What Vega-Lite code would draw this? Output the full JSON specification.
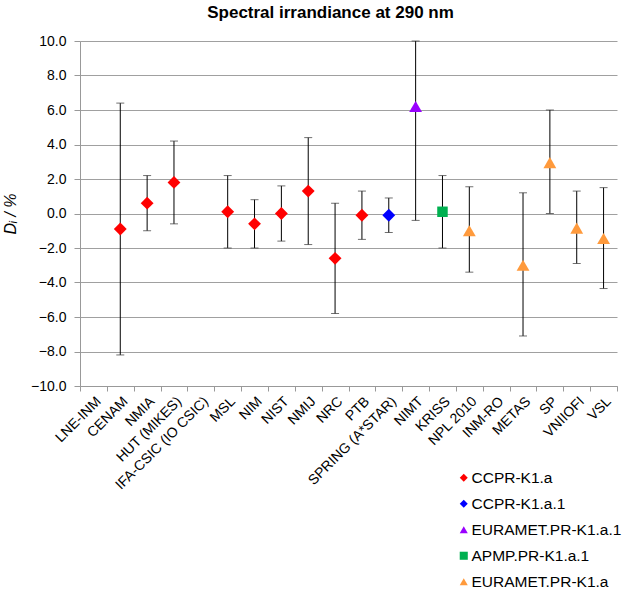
{
  "$schema": "https://vega.github.io/schema/vega-lite/v6.json",
  "width": 537,
  "height": 345,
  "autosize": {"type": "none"},
  "padding": {"left": 80, "top": 41, "right": 12, "bottom": 209},
  "background": "white",
  "config": {
    "font": "Liberation Sans",
    "view": {"stroke": null}
  },
  "title": {
    "text": "Spectral irrandiance at 290 nm",
    "fontSize": 17,
    "fontWeight": "bold",
    "font": "Liberation Sans",
    "color": "black",
    "anchor": "middle",
    "dx": -18,
    "offset": 12
  },
  "data": {
    "values": [
      {"lab": "CENAM", "series": "CCPR-K1.a", "v": -0.9, "lo": -8.2, "hi": 6.4},
      {"lab": "NMIA", "series": "CCPR-K1.a", "v": 0.6, "lo": -1.0, "hi": 2.2},
      {"lab": "HUT (MIKES)", "series": "CCPR-K1.a", "v": 1.8, "lo": -0.6, "hi": 4.2},
      {"lab": "MSL", "series": "CCPR-K1.a", "v": 0.1, "lo": -2.0, "hi": 2.2},
      {"lab": "NIM", "series": "CCPR-K1.a", "v": -0.6, "lo": -2.0, "hi": 0.8},
      {"lab": "NIST", "series": "CCPR-K1.a", "v": 0.0, "lo": -1.6, "hi": 1.6},
      {"lab": "NMIJ", "series": "CCPR-K1.a", "v": 1.3, "lo": -1.8, "hi": 4.4},
      {"lab": "NRC", "series": "CCPR-K1.a", "v": -2.6, "lo": -5.8, "hi": 0.6},
      {"lab": "PTB", "series": "CCPR-K1.a", "v": -0.1, "lo": -1.5, "hi": 1.3},
      {"lab": "SPRING (A*STAR)", "series": "CCPR-K1.a.1", "v": -0.1, "lo": -1.1, "hi": 0.9},
      {"lab": "NIMT", "series": "EURAMET.PR-K1.a.1", "v": 6.2, "lo": -0.4, "hi": 10.0},
      {"lab": "KRISS", "series": "APMP.PR-K1.a.1", "v": 0.1, "lo": -2.0, "hi": 2.2},
      {"lab": "NPL 2010", "series": "EURAMET.PR-K1.a", "v": -1.0, "lo": -3.4, "hi": 1.55},
      {"lab": "METAS", "series": "EURAMET.PR-K1.a", "v": -3.0, "lo": -7.1, "hi": 1.2},
      {"lab": "SP", "series": "EURAMET.PR-K1.a", "v": 2.95, "lo": 0.0, "hi": 6.0},
      {"lab": "VNIIOFI", "series": "EURAMET.PR-K1.a", "v": -0.85, "lo": -2.9, "hi": 1.3},
      {"lab": "VSL", "series": "EURAMET.PR-K1.a", "v": -1.45, "lo": -4.35, "hi": 1.5}
    ]
  },
  "encoding": {
    "x": {
      "field": "lab",
      "type": "nominal",
      "sort": null,
      "scale": {
        "domain": ["LNE-INM", "CENAM", "NMIA", "HUT (MIKES)", "IFA-CSIC (IO CSIC)", "MSL", "NIM", "NIST", "NMIJ", "NRC", "PTB", "SPRING (A*STAR)", "NIMT", "KRISS", "NPL 2010", "INM-RO", "METAS", "SP", "VNIIOFI", "VSL"],
        "paddingInner": 0,
        "paddingOuter": 0
      },
      "axis": {
        "title": null,
        "labelAngle": -45,
        "labelFontSize": 14,
        "labelColor": "black",
        "labelFont": "Liberation Sans",
        "labelOverlap": false,
        "domainColor": "#999999",
        "tickColor": "#999999",
        "tickSize": 5,
        "tickBand": "extent",
        "labelPadding": 3
      }
    }
  },
  "layer": [
    {
      "mark": {"type": "rule", "color": "black", "strokeWidth": 1},
      "encoding": {
        "y": {
          "field": "lo",
          "type": "quantitative",
          "scale": {"domain": [-10, 10], "nice": false},
          "axis": {
            "title": "Dᵢ / %",
            "titleFontSize": 16,
            "titleFontWeight": "normal",
            "titleFontStyle": "italic",
            "titleFont": "Liberation Sans",
            "titleColor": "black",
            "titlePadding": 12,
            "values": [-10, -8, -6, -4, -2, 0, 2, 4, 6, 8, 10],
            "tickCount": 11,
            "labelOverlap": false,
            "format": ".1f",
            "labelFontSize": 14,
            "labelColor": "black",
            "labelFont": "Liberation Sans",
            "gridColor": "#a0a0a0",
            "domainColor": "#999999",
            "tickColor": "#999999",
            "tickSize": 6,
            "labelPadding": 8
          }
        },
        "y2": {"field": "hi"}
      }
    },
    {
      "mark": {"type": "tick", "color": "#333333", "thickness": 1, "size": 8, "orient": "horizontal"},
      "encoding": {"y": {"field": "lo", "type": "quantitative"}}
    },
    {
      "mark": {"type": "tick", "color": "#333333", "thickness": 1, "size": 8, "orient": "horizontal"},
      "encoding": {"y": {"field": "hi", "type": "quantitative"}}
    },
    {
      "transform": [{"filter": "datum.series != 'APMP.PR-K1.a.1'"}],
      "mark": {"type": "point", "filled": true, "opacity": 1, "size": 165},
      "encoding": {
        "y": {"field": "v", "type": "quantitative"},
        "color": {
          "field": "series",
          "type": "nominal",
          "scale": {
            "domain": ["CCPR-K1.a", "CCPR-K1.a.1", "EURAMET.PR-K1.a.1", "APMP.PR-K1.a.1", "EURAMET.PR-K1.a"],
            "range": ["#ff0000", "#0000ff", "#9900ff", "#00b050", "#ff9a3c"]
          },
          "legend": {
            "title": null,
            "orient": "none",
            "legendX": 376,
            "legendY": 429,
            "labelFontSize": 15.5,
            "labelFont": "Liberation Sans",
            "labelColor": "black",
            "rowPadding": 9,
            "symbolSize": 65,
            "labelOffset": 0
          }
        },
        "shape": {
          "field": "series",
          "type": "nominal",
          "scale": {
            "domain": ["CCPR-K1.a", "CCPR-K1.a.1", "EURAMET.PR-K1.a.1", "APMP.PR-K1.a.1", "EURAMET.PR-K1.a"],
            "range": ["diamond", "diamond", "triangle-up", "square", "triangle-up"]
          },
          "legend": null
        }
      }
    },
    {
      "transform": [{"filter": "datum.series == 'APMP.PR-K1.a.1'"}],
      "mark": {"type": "point", "filled": true, "opacity": 1, "size": 110},
      "encoding": {
        "y": {"field": "v", "type": "quantitative"},
        "color": {"field": "series", "type": "nominal"},
        "shape": {"field": "series", "type": "nominal"}
      }
    }
  ]
}
